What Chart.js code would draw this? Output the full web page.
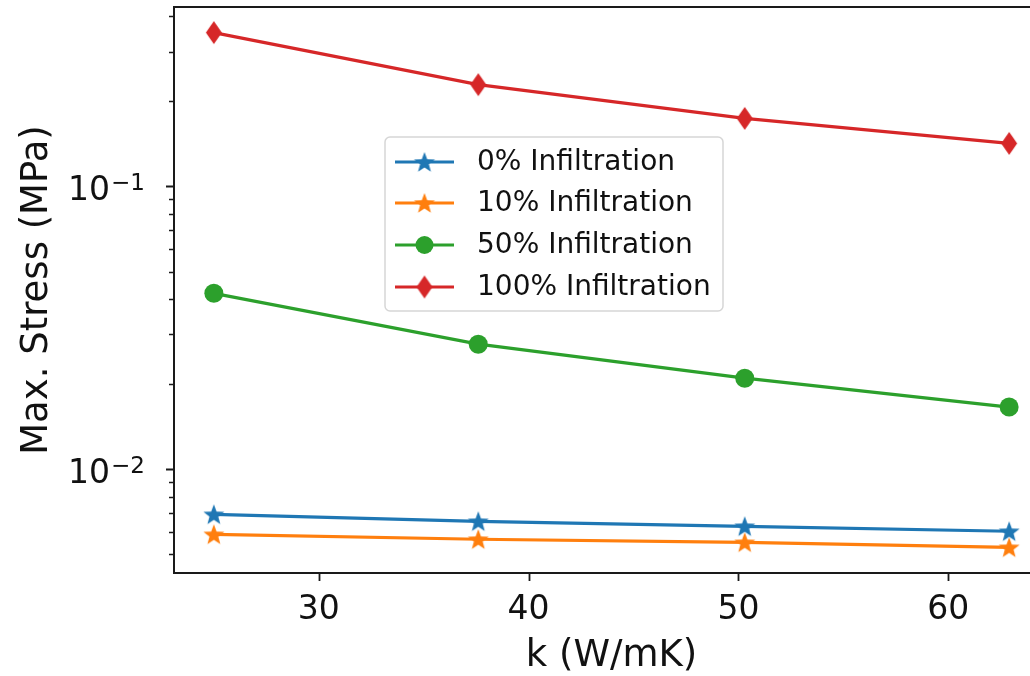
<!DOCTYPE html>
<html>
<head>
<meta charset="utf-8">
<title>Max. Stress vs k</title>
<script src="https://cdn.jsdelivr.net/npm/chart.js@4/dist/chart.umd.min.js"></script>
<style>
    html, body { margin: 0; padding: 0; background: #fff; overflow: hidden; }
    #wrap { width: 1052px; height: 676px; }
</style>
</head>
<body>
<div id="wrap"><canvas id="chart" width="1052" height="676"></canvas></div>
<script>
// k values on the x axis (W/mK)
const K_VALUES = [25, 37.6, 50.3, 62.9];

// max stress (MPa) for each infiltration level
const STRESS_0 = [0.00693, 0.00655, 0.00629, 0.00604];
const STRESS_10 = [0.00589, 0.00566, 0.00552, 0.00530];
const STRESS_50 = [0.0419, 0.0277, 0.0210, 0.0166];
const STRESS_100 = [0.350, 0.229, 0.174, 0.142];

const SERIES_NAMES = ['0% Infiltration', '10% Infiltration', '50% Infiltration', '100% Infiltration'];

// ticks
const X_TICKS = [30, 40, 50, 60];
const Y_MAJOR_TICKS = [0.01, 0.1];
const Y_MINOR_TICKS = [0.005, 0.006, 0.007, 0.008, 0.009,
    0.02, 0.03, 0.04, 0.05, 0.06, 0.07, 0.08, 0.09, 0.2, 0.3, 0.4];
// y labels are "10" with a superscript exponent
const Y_TICK_BASE = '10';
const Y_TICK_EXPONENTS = ['\u22122', '\u22121'];

// matplotlib tab10 colours
const COLOR_BLUE = '#1f77b4';
const COLOR_ORANGE = '#ff7f0e';
const COLOR_GREEN = '#2ca02c';
const COLOR_RED = '#d62728';
const COLOR_AXES = '#1a1a1a';
const COLOR_TEXT = '#111';

const FONT = 'DejaVu Sans';


// little canvases used as point markers
function makeStar(color, r) {
    const c = document.createElement('canvas');
    c.width = c.height = Math.ceil(r * 2 + 2);
    const g = c.getContext('2d');
    const cx = c.width / 2, cy = c.height / 2 + r * 0.08;
    g.beginPath();
    for (let i = 0; i < 10; i++) {
        const rad = (i % 2 === 0) ? r : r * 0.42;
        const a = -Math.PI / 2 + i * Math.PI / 5;
        const px = cx + rad * Math.cos(a);
        const py = cy + rad * Math.sin(a);
        if (i === 0) g.moveTo(px, py); else g.lineTo(px, py);
    }
    g.closePath();
    g.fillStyle = color;
    g.fill();
    return c;
}

function makeThinDiamond(color, h, w) {
    const c = document.createElement('canvas');
    c.width = Math.ceil(w + 2);
    c.height = Math.ceil(h + 2);
    const g = c.getContext('2d');
    const cx = c.width / 2, cy = c.height / 2;
    g.beginPath();
    g.moveTo(cx, cy - h / 2);
    g.lineTo(cx + w / 2, cy);
    g.lineTo(cx, cy + h / 2);
    g.lineTo(cx - w / 2, cy);
    g.closePath();
    g.fillStyle = color;
    g.fill();
    return c;
}

const MARK_BLUE = makeStar(COLOR_BLUE, 11);
const MARK_ORANGE = makeStar(COLOR_ORANGE, 11);
const MARK_RED = makeThinDiamond(COLOR_RED, 23, 16);


function toPoints(ys) {
    const pts = [];
    for (let i = 0; i < K_VALUES.length; i++) {
        pts.push({ x: K_VALUES[i], y: ys[i] });
    }
    return pts;
}

function makeDataset(label, ys, color, style, radius) {
    return {
        label: label,
        data: toPoints(ys),
        borderColor: color,
        backgroundColor: color,
        borderWidth: 3.2,
        pointStyle: style,
        pointRadius: radius,
        pointHoverRadius: radius,
        pointBorderWidth: 0,
        tension: 0,
        clip: false
    };
}


// frame, tick marks, y labels and the legend box, all drawn after the chart
const framePlugin = {
    id: 'frame',
    afterDraw(chart) {
        const ctx = chart.ctx;
        const area = chart.chartArea;
        const xs = chart.scales.x;
        const ys = chart.scales.y;

        ctx.save();
        ctx.strokeStyle = COLOR_AXES;
        ctx.lineWidth = 2;
        ctx.strokeRect(area.left, area.top, area.right - area.left, area.bottom - area.top);

        // x tick marks
        ctx.lineWidth = 1.8;
        ctx.beginPath();
        X_TICKS.forEach(function(v) {
            const px = Math.round(xs.getPixelForValue(v)) + 0.5;
            ctx.moveTo(px, area.bottom);
            ctx.lineTo(px, area.bottom + 8);
        });
        // y major ticks
        Y_MAJOR_TICKS.forEach(function(v) {
            const py = Math.round(ys.getPixelForValue(v)) + 0.5;
            ctx.moveTo(area.left, py);
            ctx.lineTo(area.left - 8, py);
        });
        ctx.stroke();
        // y minor ticks
        ctx.lineWidth = 1.3;
        ctx.beginPath();
        Y_MINOR_TICKS.forEach(function(v) {
            const py = Math.round(ys.getPixelForValue(v)) + 0.5;
            ctx.moveTo(area.left, py);
            ctx.lineTo(area.left - 5, py);
        });
        ctx.stroke();

        // y tick labels: 10 with a raised exponent
        ctx.fillStyle = COLOR_TEXT;
        ctx.textAlign = 'left';
        ctx.textBaseline = 'alphabetic';
        for (let i = 0; i < Y_MAJOR_TICKS.length; i++) {
            const py = ys.getPixelForValue(Y_MAJOR_TICKS[i]);
            const x0 = area.left - 106;
            ctx.font = '33px "' + FONT + '"';
            const wBase = ctx.measureText(Y_TICK_BASE).width;
            ctx.fillText(Y_TICK_BASE, x0, py + 14);
            ctx.font = '23px "' + FONT + '"';
            ctx.fillText(Y_TICK_EXPONENTS[i], x0 + wBase + 1, py + 4);
        }

        // legend
        const bx = 385, by = 137, bw = 338, bh = 174;
        ctx.fillStyle = 'rgba(255,255,255,0.8)';
        ctx.strokeStyle = '#d6d6d6';
        ctx.lineWidth = 1.5;
        ctx.beginPath();
        ctx.roundRect(bx, by, bw, bh, 5);
        ctx.fill();
        ctx.stroke();

        const rows = [162, 203, 245, 287];
        const colors = [COLOR_BLUE, COLOR_ORANGE, COLOR_GREEN, COLOR_RED];
        ctx.font = '28px "' + FONT + '"';
        ctx.textBaseline = 'middle';
        ctx.textAlign = 'left';
        for (let i = 0; i < rows.length; i++) {
            const y = rows[i];
            ctx.strokeStyle = colors[i];
            ctx.lineWidth = 3.2;
            ctx.beginPath();
            ctx.moveTo(395, y);
            ctx.lineTo(454, y);
            ctx.stroke();
            const mx = 424.5;
            if (i === 0 || i === 1) {
                const m = i === 0 ? MARK_BLUE : MARK_ORANGE;
                ctx.drawImage(m, mx - m.width / 2, y - m.height / 2);
            } else if (i === 2) {
                ctx.fillStyle = COLOR_GREEN;
                ctx.beginPath();
                ctx.arc(mx, y, 9, 0, Math.PI * 2);
                ctx.fill();
            } else {
                ctx.drawImage(MARK_RED, mx - MARK_RED.width / 2, y - MARK_RED.height / 2);
            }
            ctx.fillStyle = COLOR_TEXT;
            ctx.fillText(SERIES_NAMES[i], 477, y + 1);
        }
        ctx.restore();
    }
};


Chart.defaults.font.family = FONT;
Chart.defaults.color = COLOR_TEXT;

const ctx = document.getElementById('chart').getContext('2d');

const myChart = new Chart(ctx, {
    type: 'line',
    data: {
        datasets: [
            makeDataset(SERIES_NAMES[0], STRESS_0, COLOR_BLUE, MARK_BLUE, 11),
            makeDataset(SERIES_NAMES[1], STRESS_10, COLOR_ORANGE, MARK_ORANGE, 11),
            makeDataset(SERIES_NAMES[2], STRESS_50, COLOR_GREEN, 'circle', 9.5),
            makeDataset(SERIES_NAMES[3], STRESS_100, COLOR_RED, MARK_RED, 12)
        ]
    },
    options: {
        responsive: false,
        animation: false,
        events: [],
        layout: {
            autoPadding: false,
            padding: { top: 7, right: 3, left: 0, bottom: 0 }
        },
        plugins: {
            legend: { display: false },
            tooltip: { enabled: false }
        },
        scales: {
            x: {
                type: 'linear',
                min: 23.1,
                max: 64.8,
                grid: { display: false, drawTicks: false },
                border: { display: false },
                afterBuildTicks: function(scale) {
                    scale.ticks = X_TICKS.map(function(v) { return { value: v }; });
                },
                afterFit: function(scale) {
                    scale.height = 103;
                    scale.paddingLeft = 0;
                    scale.paddingRight = 0;
                },
                ticks: {
                    font: { size: 33 },
                    padding: 18,
                    maxRotation: 0,
                    autoSkip: false,
                    callback: function(value) { return String(value); }
                },
                title: {
                    display: true,
                    text: 'k (W/mK)',
                    font: { size: 37, lineHeight: 1 },
                    padding: { top: 0, bottom: 1 }
                }
            },
            y: {
                type: 'logarithmic',
                min: 0.0043,
                max: 0.431,
                grid: { display: false, drawTicks: false },
                border: { display: false },
                afterBuildTicks: function(scale) {
                    scale.ticks = Y_MAJOR_TICKS.map(function(v) { return { value: v }; });
                },
                afterFit: function(scale) {
                    scale.width = 174;
                    scale.paddingTop = 0;
                    scale.paddingBottom = 0;
                },
                ticks: { display: false },
                title: {
                    display: true,
                    text: 'Max. Stress (MPa)',
                    font: { size: 37, lineHeight: 1.2 },
                    padding: { top: 15, bottom: 0 }
                }
            }
        }
    },
    plugins: [framePlugin]
});
</script>
</body>
</html>
